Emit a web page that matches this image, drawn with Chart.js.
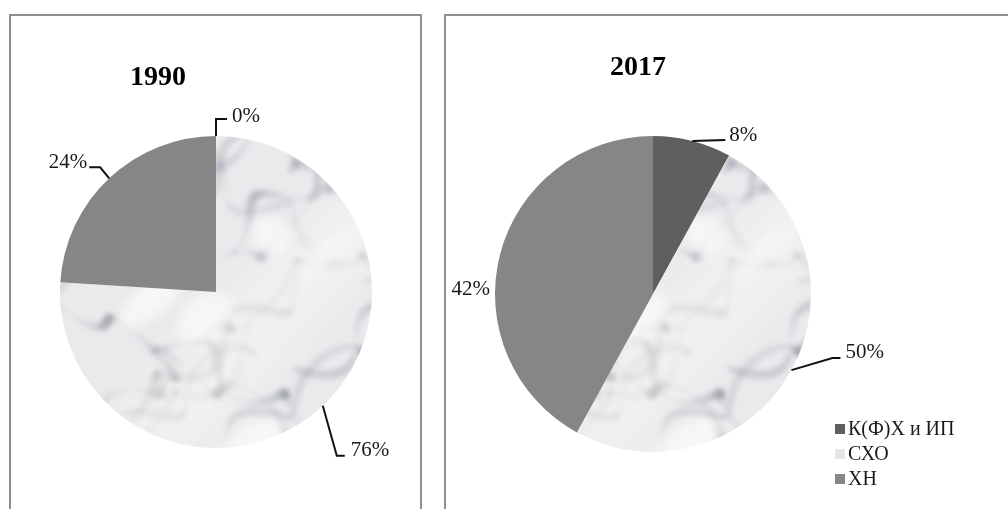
<!DOCTYPE html>
<html>
<head>
<meta charset="utf-8">
<script src="https://cdn.jsdelivr.net/npm/chart.js@4.4.1/dist/chart.umd.min.js"></script>
<style>
    body { margin: 0; background: #fff; width: 1008px; height: 509px; overflow: hidden; position: relative; }
    .box { position: absolute; top: 14px; height: 520px; border: 2px solid #8e8e8e; box-sizing: border-box; }
    .box canvas { position: absolute; left: 0; top: 0; }
</style>
</head>
<body>
<div class="box" style="left:9px; width:413px;"><canvas id="pie1990" width="409" height="494"></canvas></div>
<div class="box" style="left:444px; width:580px;"><canvas id="pie2017" width="562" height="494"></canvas></div>

<script>
// data
const categories = ['К(Ф)Х и ИП', 'СХО', 'ХН'];
const years = ['1990', '2017'];
const shares1990 = [0, 76, 24];
const shares2017 = [8, 50, 42];

const fontFamily = '"Liberation Serif", "Times New Roman", serif';
const plainColors = ['#5f5f5f', '#e6e6e8', '#868686'];

// marble-ish fill for the СХО slice (big enough that it never repeats inside a pie)
function marblePattern(ctx) {
    const c = document.createElement('canvas');
    c.width = 560; c.height = 560;
    const g = c.getContext('2d');
    g.fillStyle = '#eaeaed';
    g.fillRect(0, 0, c.width, c.height);

    // soft grey veins, mostly running lower-left to upper-right
    g.filter = 'blur(2.5px)';
    for (let i = 0; i < 34; i++) {
        let x = (i * 67) % 600 - 60;
        let y = 600 - (i * 89) % 600;
        const dir = (i % 3 === 0) ? 0.6 : -0.75;
        for (let s = 0; s < 60; s++) {
            x += 4 + Math.sin(i * 1.9 + s * 0.37) * 3.5;
            y += dir * 4 + Math.cos(i * 2.7 + s * 0.29) * 4.5;
            const r = 1.5 + Math.abs(Math.sin(i * 0.7 + s * 0.21)) * 3.5;
            g.beginPath();
            g.arc(x, y, r, 0, Math.PI * 2);
            g.fillStyle = `rgba(120,122,135,${0.10 + (i % 4) * 0.04})`;
            g.fill();
        }
    }
    // bright patches
    g.filter = 'blur(6px)';
    for (let i = 0; i < 22; i++) {
        g.beginPath();
        g.ellipse((i * 97) % 560, (i * 151) % 560, 18 + (i % 5) * 7, 10 + (i % 3) * 6, -0.7, 0, Math.PI * 2);
        g.fillStyle = 'rgba(255,255,255,0.6)';
        g.fill();
    }
    // pale diagonal band
    g.filter = 'blur(20px)';
    g.save();
    g.translate(280, 280);
    g.rotate(-0.8);
    g.fillStyle = 'rgba(246,246,244,0.55)';
    g.fillRect(-300, -40, 600, 80);
    g.restore();
    g.filter = 'none';
    return ctx.createPattern(c, 'no-repeat');
}

// label placement relative to the slice's outer mid point
const labelLayout1990 = [
    { text: [16, -14], align: 'left', leader: [[0, -17], [11, -17]] },
    { text: [28, 50], align: 'left', leader: [[14, 50], [22, 50]] },
    { text: [-22, -10], align: 'right', leader: [[-9, -11], [-20, -11]] }
];
const labelLayout2017 = [
    { text: [37, 0], align: 'left', leader: [[33, -1]] },
    { text: [54, -12], align: 'left', leader: [[41, -12], [49, -12]] },
    { text: [-10, 40], align: 'right', leader: [] }
];

const pieDeco = {
    id: 'pieDeco',
    afterDraw(chart, args, opts) {
        const ctx = chart.ctx;
        const meta = chart.getDatasetMeta(0);
        const values = chart.data.datasets[0].data;
        ctx.save();
        // title
        ctx.fillStyle = '#000';
        ctx.font = 'bold 28px ' + fontFamily;
        ctx.textAlign = 'center';
        ctx.textBaseline = 'alphabetic';
        ctx.fillText(opts.title, opts.titleX, opts.titleY);

        // data labels + leader lines
        ctx.font = '21px ' + fontFamily;
        ctx.strokeStyle = '#111';
        ctx.lineWidth = 2;
        meta.data.forEach((arc, i) => {
            const lay = opts.layout[i];
            const mid = (arc.startAngle + arc.endAngle) / 2;
            const ax = arc.x + Math.cos(mid) * arc.outerRadius;
            const ay = arc.y + Math.sin(mid) * arc.outerRadius;
            if (lay.leader.length) {
                ctx.beginPath();
                ctx.moveTo(ax, ay);
                lay.leader.forEach(p => ctx.lineTo(ax + p[0], ay + p[1]));
                ctx.stroke();
            }
            ctx.textAlign = lay.align;
            ctx.fillStyle = '#1a1a1a';
            ctx.fillText(values[i] + '%', ax + lay.text[0], ay + lay.text[1]);
        });

        // legend
        if (opts.legend) {
            const lg = opts.legend;
            ctx.font = '20px ' + fontFamily;
            ctx.textAlign = 'left';
            chart.data.labels.forEach((lab, i) => {
                const y = lg.y + i * lg.step;
                ctx.fillStyle = plainColors[i];
                ctx.fillRect(lg.x, y - 11, 10, 10);
                ctx.fillStyle = '#1a1a1a';
                ctx.fillText(lab, lg.x + 13, y);
            });
        }
        ctx.restore();
    }
};

function makePie(id, values, title, titleX, titleY, padding, layout, legend) {
    const ctx = document.getElementById(id).getContext('2d');
    return new Chart(ctx, {
        type: 'pie',
        data: {
            labels: categories,
            datasets: [{
                data: values,
                backgroundColor: [plainColors[0], marblePattern(ctx), plainColors[2]],
                borderWidth: 0,
                hoverOffset: 0
            }]
        },
        options: {
            responsive: false,
            animation: false,
            events: [],
            layout: { padding: padding },
            plugins: {
                legend: { display: false },
                tooltip: { enabled: false },
                pieDeco: { title, titleX, titleY, layout, legend }
            }
        },
        plugins: [pieDeco]
    });
}

makePie('pie1990', shares1990, years[0], 147, 69,
    { left: 49, right: 48, top: 120, bottom: 62 }, labelLayout1990, null);
makePie('pie2017', shares2017, years[1], 192, 59,
    { left: 49, right: 197, top: 120, bottom: 58 }, labelLayout2017, { x: 389, y: 419, step: 25 });
</script>
</body>
</html>
